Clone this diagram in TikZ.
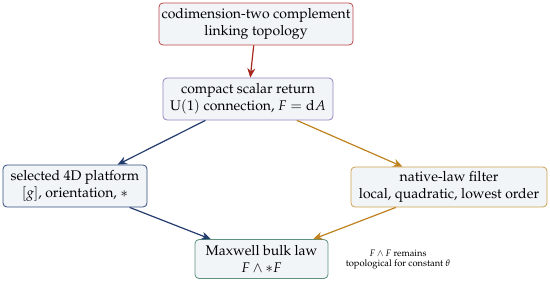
\documentclass[tikz,border=0pt]{standalone}
\usepackage[T1]{fontenc}
\usepackage{mathpazo}
\usetikzlibrary{arrows.meta}
\definecolor{boxfill}{RGB}{241,245,248}
\definecolor{cred}{RGB}{190,70,70}
\definecolor{cpurple}{RGB}{150,130,190}
\definecolor{cblue}{RGB}{50,75,125}
\definecolor{cgold}{RGB}{205,160,80}
\definecolor{cgreen}{RGB}{95,145,125}
\definecolor{ared}{RGB}{165,40,30}
\definecolor{ablue}{RGB}{35,60,110}
\definecolor{agold}{RGB}{190,130,30}
\tikzset{
  box/.style={draw, fill=boxfill, rounded corners=3pt, line width=0.6pt, align=center, inner sep=2pt, font=\fontsize{10.5}{12.8}\selectfont},
  conn/.style={line width=0.9pt, -{Stealth[length=7pt,width=6pt]}},
}
\begin{document}
\begin{tikzpicture}[x=0.75pt,y=-0.75pt]
\useasboundingbox (0,0) rectangle (550,283);
\node[box, draw=cred, minimum width=192*0.75pt, minimum height=42*0.75pt] (top) at (256,24) {codimension-two complement\\linking topology};
\node[box, draw=cpurple, minimum width=170*0.75pt, minimum height=42*0.75pt] (mid) at (248,99) {compact scalar return\\$\mathrm{U}(1)$ connection, $F=\mathrm{d}A$};
\node[box, draw=cblue, minimum width=144*0.75pt, minimum height=42*0.75pt] (left) at (75,186) {selected 4D platform\\$[g]$, orientation, $*$};
\node[box, draw=cgold, minimum width=196*0.75pt, minimum height=40*0.75pt] (right) at (449,187) {native-law filter\\local, quadratic, lowest order};
\node[box, draw=cgreen, minimum width=133*0.75pt, minimum height=39*0.75pt] (bot) at (261.5,259) {Maxwell bulk law\\$F\wedge *F$};
\node[align=center, font=\fontsize{7}{7.5}\selectfont] (note) at (398,260) {$F\wedge F$ remains\\topological for constant $\theta$};
\draw[conn, ared] (top) -- (mid);
\draw[conn, ablue] (mid) -- (left);
\draw[conn, agold] (mid) -- (right);
\draw[conn, ablue] (left) -- (bot);
\draw[conn, agold] (right) -- (bot);
\end{tikzpicture}
\end{document}
